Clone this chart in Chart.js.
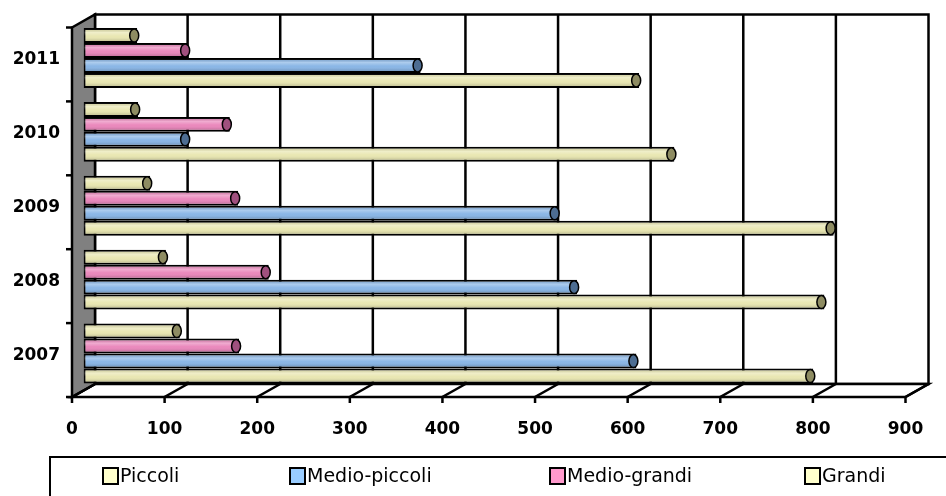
<!DOCTYPE html>
<html>
<head>
<meta charset="utf-8">
<script src="https://cdn.jsdelivr.net/npm/chart.js@4"></script>
<style>
  body { margin: 0; background: #fff; }
  #wrap { width: 946px; height: 496px; position: relative; }
</style>
</head>
<body>
<div id="wrap"><canvas id="myChart"></canvas></div>
<script>
// categories, top to bottom
const years = ['2011', '2010', '2009', '2008', '2007'];

// series values, same order as years
const piccoli      = [600, 638, 810, 800, 788];
const medioPiccoli = [364, 113, 512, 533, 597];
const medioGrandi  = [113, 158, 167, 200, 168];
const grandi       = [58, 59, 72, 89, 104];

const xTicks = [0, 100, 200, 300, 400, 500, 600, 700, 800, 900];

const legendOrder = ['Piccoli', 'Medio-piccoli', 'Medio-grandi', 'Grandi'];
const legendColors = ['#ffffcc', '#99ccff', '#ff99cc', '#ffffcc'];
const legendX = [103, 290, 550, 805];

// half of the 3D depth, front plane = mid - depth
const DX = 11.5, DY = 6.5;

const capColors = {
    'Piccoli': '#8e8c62',
    'Grandi': '#8e8c62',
    'Medio-piccoli': '#4d6d92',
    'Medio-grandi': '#a0507e'
};

const tickFont = 'bold 17px "DejaVu Sans"';

const walls = {
    id: 'walls',
    beforeDatasetsDraw(chart) {
        const ctx = chart.ctx;
        const xs = chart.scales.x, ys = chart.scales.y;
        const L = xs.getPixelForValue(0), R = xs.getPixelForValue(900);
        const T = ys.top, B = ys.bottom;
        ctx.save();
        ctx.lineWidth = 2.5;
        ctx.strokeStyle = '#000';
        ctx.lineJoin = 'miter';

        // back wall
        ctx.fillStyle = '#fff';
        ctx.fillRect(L + DX, T - DY, R - L, B - T);
        ctx.strokeRect(L + DX, T - DY, R - L, B - T);

        // floor
        ctx.beginPath();
        ctx.moveTo(L - DX, B + DY);
        ctx.lineTo(R - DX, B + DY);
        ctx.lineTo(R + DX, B - DY);
        ctx.lineTo(L + DX, B - DY);
        ctx.closePath();
        ctx.fill();
        ctx.stroke();

        // side wall
        ctx.fillStyle = '#808080';
        ctx.beginPath();
        ctx.moveTo(L - DX, T + DY);
        ctx.lineTo(L + DX, T - DY);
        ctx.lineTo(L + DX, B - DY);
        ctx.lineTo(L - DX, B + DY);
        ctx.closePath();
        ctx.fill();
        ctx.stroke();

        // grid lines on back wall and floor, ticks and labels on the front edge
        ctx.font = tickFont;
        ctx.textAlign = 'center';
        ctx.textBaseline = 'middle';
        xTicks.forEach(v => {
            const px = xs.getPixelForValue(v);
            ctx.beginPath();
            if (v > 0 && v < 900) {
                ctx.moveTo(px + DX, T - DY);
                ctx.lineTo(px + DX, B - DY);
            }
            ctx.moveTo(px + DX, B - DY);
            ctx.lineTo(px - DX, B + DY);
            ctx.lineTo(px - DX, B + DY + 6);
            ctx.stroke();
            ctx.fillStyle = '#000';
            ctx.fillText(String(v), px - DX, B + 39);
        });

        // category ticks on left front edge, and year labels
        const n = years.length;
        for (let i = 0; i <= n; i++) {
            const py = T + i * (B - T) / n + DY;
            ctx.beginPath();
            ctx.moveTo(L - DX - 6, py);
            ctx.lineTo(L - DX, py);
            ctx.stroke();
        }
        ctx.textAlign = 'right';
        years.forEach((y, i) => {
            ctx.fillText(y, 60, ys.getPixelForValue(i) + 2);
        });
        ctx.restore();
    },
    afterDatasetsDraw(chart) {
        const ctx = chart.ctx;
        ctx.save();
        chart.data.datasets.forEach((ds, di) => {
            const meta = chart.getDatasetMeta(di);
            meta.data.forEach(bar => {
                const p = bar.getProps(['x', 'y', 'base', 'height'], true);
                const top = p.y - p.height / 2, bot = p.y + p.height / 2;
                const g = ctx.createLinearGradient(0, top, 0, bot);
                g.addColorStop(0, 'rgba(0,0,0,0.04)');
                g.addColorStop(0.3, 'rgba(255,255,255,0.3)');
                g.addColorStop(0.55, 'rgba(255,255,255,0)');
                g.addColorStop(0.8, 'rgba(0,0,0,0.1)');
                g.addColorStop(1, 'rgba(0,0,0,0.18)');
                ctx.fillStyle = g;
                ctx.fillRect(p.base + 1, top + 1, p.x - p.base - 2, p.height - 2);

                // end cap
                ctx.beginPath();
                ctx.ellipse(p.x - 3, p.y, 4.5, p.height / 2 - 1, 0, 0, Math.PI * 2);
                ctx.fillStyle = capColors[ds.label];
                ctx.fill();
                ctx.lineWidth = 1.5;
                ctx.strokeStyle = '#000';
                ctx.stroke();
            });
        });
        ctx.restore();
    },
    afterDraw(chart) {
        const ctx = chart.ctx;
        ctx.save();
        // legend frame
        ctx.strokeStyle = '#000';
        ctx.lineWidth = 2;
        ctx.beginPath();
        ctx.moveTo(50, 500);
        ctx.lineTo(50, 457);
        ctx.lineTo(950, 457);
        ctx.stroke();

        ctx.font = '19px "DejaVu Sans"';
        ctx.textBaseline = 'middle';
        legendOrder.forEach((name, i) => {
            const x = legendX[i];
            ctx.fillStyle = legendColors[i];
            ctx.fillRect(x, 468, 15, 16);
            ctx.lineWidth = 2;
            ctx.strokeRect(x, 468, 15, 16);
            ctx.fillStyle = '#000';
            ctx.fillText(name, x + 17, 477);
        });
        ctx.restore();
    }
};

const barStyle = (label, color, values) => ({
    label: label,
    data: values,
    backgroundColor: color,
    borderColor: '#000',
    borderWidth: 2,
    borderSkipped: false,
    categoryPercentage: 0.81,
    barPercentage: 1.0
});

let myChart = new Chart(document.getElementById('myChart'), {
    type: 'bar',
    data: {
        labels: years,
        datasets: [
            barStyle('Grandi', '#e9e7b2', grandi),
            barStyle('Medio-grandi', '#ea88bc', medioGrandi),
            barStyle('Medio-piccoli', '#8ab6e6', medioPiccoli),
            barStyle('Piccoli', '#e9e7b2', piccoli)
        ]
    },
    options: {
        indexAxis: 'y',
        responsive: true,
        maintainAspectRatio: false,
        animation: false,
        layout: { autoPadding: false, padding: { top: 21, right: 29, left: 83.5, bottom: 105.5 } },
        plugins: {
            legend: { display: false },
            tooltip: { enabled: false }
        },
        scales: {
            x: { display: false, min: 0, max: 900 },
            y: { display: false }
        }
    },
    plugins: [walls]
});
</script>
</body>
</html>
